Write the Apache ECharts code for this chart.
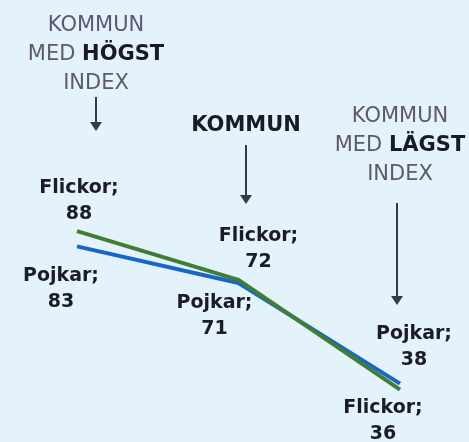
<!DOCTYPE html>
<html>
<head>
<meta charset="utf-8">
<script src="https://cdn.jsdelivr.net/npm/echarts@6/dist/echarts.min.js"></script>
<style>
  html, body { margin: 0; padding: 0; background: #e3f2fb; }
  #chart { width: 469px; height: 442px; }
</style>
</head>
<body>
<div id="chart"></div>
<script>
// kommuner: högst index, kommun, lägst index
const categories = ['Högst', 'Kommun', 'Lägst'];
const pojkar = [83, 71, 38];
const flickor = [88, 72, 36];

const FONT = '"DejaVu Sans", sans-serif';

// label offsets (from each point) — hand placed like the original
const flickorOffsets = [[2, -30], [20, -31], [-17, 31]];
const pojkarOffsets = [[-16, 43], [-24, 33], [14, -37]];

function withLabels(values, offsets) {
  return values.map((v, i) => ({
    value: v,
    label: { offset: offsets[i] }
  }));
}

const labelStyle = {
  show: true,
  position: 'inside',
  align: 'center',
  verticalAlign: 'middle',
  formatter: '{a};\n{c}',
  color: '#1c1c28',
  fontFamily: FONT,
  fontWeight: 'bold',
  fontSize: 19,
  lineHeight: 26
};

const headerText = {
  fontFamily: FONT,
  fontSize: 21,
  fontWeight: 'normal',
  fill: '#5e5870',
  align: 'center',
  lineHeight: 29,
  rich: {
    b: { fontFamily: FONT, fontSize: 21, fontWeight: 'bold', fill: '#1a1a24', lineHeight: 29 }
  }
};

function arrow(x, y1, y2) {
  return [
    { type: 'line', shape: { x1: x, y1: y1, x2: x, y2: y2 - 6 }, style: { stroke: '#333c44', lineWidth: 2 } },
    { type: 'polygon', shape: { points: [[x - 6, y2 - 9], [x + 6, y2 - 9], [x, y2]] }, style: { fill: '#333c44' } }
  ];
}

const chart = echarts.init(document.getElementById('chart'));
chart.setOption({
  backgroundColor: '#e3f2fb',
  animation: false,
  grid: { left: 77, right: 69, top: 225, bottom: 34 },
  xAxis: {
    type: 'category',
    data: categories,
    boundaryGap: false,
    show: false
  },
  yAxis: {
    type: 'value',
    min: 30,
    max: 90,
    show: false
  },
  graphic: [
    { type: 'text', x: 96, y: 11, style: Object.assign({}, headerText, { text: 'KOMMUN\nMED {b|HÖGST}\nINDEX' }) },
    { type: 'text', x: 246, y: 111, style: Object.assign({}, headerText, { text: '{b|KOMMUN}' }) },
    { type: 'text', x: 400, y: 102, style: Object.assign({}, headerText, { text: 'KOMMUN\nMED {b|LÄGST}\nINDEX' }) },
    ...arrow(96, 97, 131),
    ...arrow(246, 145, 204),
    ...arrow(397, 203, 305)
  ],
  series: [
    {
      name: 'Pojkar',
      type: 'line',
      data: withLabels(pojkar, pojkarOffsets),
      symbol: 'circle',
      symbolSize: 1,
      showSymbol: true,
      itemStyle: { color: 'rgba(0,0,0,0)' },
      lineStyle: { color: '#1866c8', width: 4 },
      label: labelStyle
    },
    {
      name: 'Flickor',
      type: 'line',
      data: withLabels(flickor, flickorOffsets),
      symbol: 'circle',
      symbolSize: 1,
      showSymbol: true,
      itemStyle: { color: 'rgba(0,0,0,0)' },
      lineStyle: { color: '#417e35', width: 4 },
      label: labelStyle
    }
  ]
});
</script>
</body>
</html>
